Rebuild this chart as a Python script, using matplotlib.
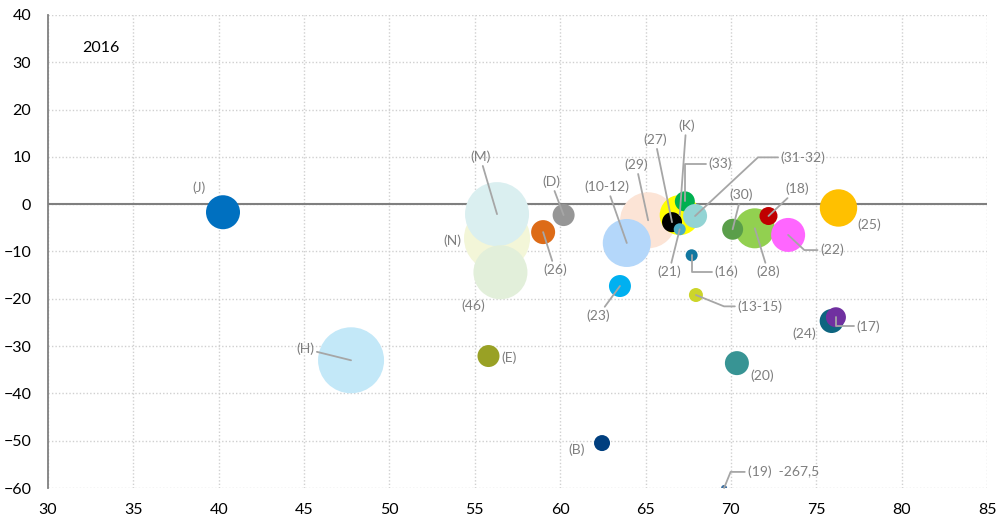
import numpy as np
import matplotlib.pyplot as plt

plt.rcParams['font.family'] = ['Lato', 'DejaVu Sans']

# data (drawing order = stacking order)
labels = ["(J)", "(H)", "(N)", "(M)", "(46)", "(D)", "(26)", "(29)", "(10-12)", "(K)",
          "(27)", "(33)", "(31-32)", "(21)", "(28)", "(30)", "(18)", "(22)", "(25)",
          "(16)", "(23)", "(13-15)", "(24)", "(17)", "(20)", "(B)", "(19)", "(E)"]
x_vals = [40.25, 47.75, 56.3, 56.3, 56.5, 60.2, 59.0, 65.15, 63.9, 67.0,
          66.55, 67.3, 67.9, 67.0, 71.4, 70.1, 72.2, 73.35, 76.3,
          67.7, 63.5, 67.95, 75.9, 76.15, 70.35, 62.45, 69.6, 55.8]
y_vals = [-1.7, -33.0, -7.2, -2.1, -14.4, -2.3, -5.9, -3.4, -8.2, -2.3,
          -3.8, 0.6, -2.5, -5.3, -5.1, -5.3, -2.5, -6.5, -0.8,
          -10.8, -17.3, -19.2, -24.7, -23.9, -33.6, -50.5, -267.5, -32.1]
sizes = [17, 33, 33, 32, 27, 11, 12, 28, 24, 20,
         10, 10, 12, 6, 20, 10.5, 9, 17, 18.7,
         6, 11, 7, 12, 10, 12, 8, 3, 11]
colors = ["#0070C0", "#C3E8F8", "#F3F6D8", "#DAEFF0", "#E2EFDA", "#969696", "#DD6B17",
          "#FCE4D6", "#B4D7FA", "#FFFF00", "#000000", "#00B050", "#93D4D4", "#4BACC6",
          "#92D050", "#5A9E4A", "#C00000", "#FF66FF", "#FFC000", "#1177A0", "#00B0F0",
          "#CCD52A", "#0E6580", "#7030A0", "#389494", "#003F7F", "#3A6EA0", "#99A125"]

# label placement (layout)
label_pos = {
    "(J)": (38.85, 3.4), "(H)": (45.06, -30.6), "(M)": (55.31, 10.0), "(N)": (53.67, -7.8),
    "(46)": (54.9, -21.5), "(D)": (59.47, 4.7), "(26)": (59.7, -13.9), "(10-12)": (62.75, 3.6),
    "(29)": (64.45, 8.3), "(27)": (65.56, 13.6), "(K)": (67.38, 16.5), "(33)": (69.37, 8.5),
    "(31-32)": (74.23, 9.9), "(30)": (70.6, 1.9), "(18)": (73.88, 3.2), "(25)": (78.1, -4.4),
    "(22)": (75.93, -9.7), "(28)": (72.18, -14.3), "(16)": (69.75, -14.3), "(21)": (66.38, -14.3),
    "(23)": (62.22, -23.6), "(13-15)": (71.71, -21.6), "(24)": (74.29, -27.4),
    "(17)": (78.04, -25.8), "(20)": (71.83, -36.3), "(B)": (60.99, -52.0),
    "(E)": (57.0, -32.5), "(19)": (73.06, -56.6),
}
no_line = {"(J)", "(N)", "(46)", "(25)", "(24)", "(20)", "(B)", "(E)"}
elbow = {"(33)": (0, 90), "(16)": (0, 90), "(17)": (0, 90), "(19)": (0, 68),
         "(31-32)": (0, 43), "(22)": (0, -43), "(13-15)": (0, -22)}

fig = plt.figure(figsize=(9.98, 5.24), dpi=100)
ax = fig.add_axes([0.0481, 0.0687, 0.9409, 0.9027])

ymin, ymax = -60, 40
y_plot = np.clip(y_vals, ymin, ymax)
s = (2 * np.array(sizes) * 0.72) ** 2
ax.scatter(x_vals, y_plot, s=s, c=colors, linewidths=0, zorder=3, clip_on=True)

for lab, xv, yv in zip(labels, x_vals, y_plot):
    tx, ty = label_pos[lab]
    txt = lab + "  -267,5" if lab == "(19)" else lab
    if lab in no_line:
        ax.text(tx, ty, txt, ha="center", va="center", fontsize=10, color="#7F7F7F", zorder=5)
        continue
    if lab in elbow:
        a, b = elbow[lab]
        cs = f"angle,angleA={a},angleB={b},rad=0"
    else:
        cs = "arc3"
    ax.annotate(txt, xy=(xv, yv), xytext=(tx, ty), ha="center", va="center",
                fontsize=10, color="#7F7F7F", zorder=5, annotation_clip=False,
                arrowprops=dict(arrowstyle="-", color="#A6A6A6", lw=1.3,
                                shrinkA=0, shrinkB=0, connectionstyle=cs))

ax.axhline(0, color="#7F7F7F", lw=1.5, zorder=2)
ax.set_xlim(30, 85)
ax.set_ylim(ymin, ymax)
ax.set_xticks(np.arange(30, 86, 5))
ax.set_yticks(np.arange(-60, 41, 10))
ax.grid(True, color="#D0D0D0", linestyle=(0, (1, 1.5)), lw=1, zorder=0)
ax.set_axisbelow(True)
for side in ["top", "right", "bottom"]:
    ax.spines[side].set_visible(False)
ax.spines["left"].set_color("#808080")
ax.spines["left"].set_linewidth(1.3)
ax.tick_params(length=0, labelsize=11.5, colors="#000000")
ax.tick_params(axis="x", pad=11)
ax.tick_params(axis="y", pad=12)

ax.text(0.056, 0.93, "2016", transform=ax.transAxes, fontsize=11.5, color="#000000",
        ha="center", va="center")

fig.savefig("out.png", dpi=100)
